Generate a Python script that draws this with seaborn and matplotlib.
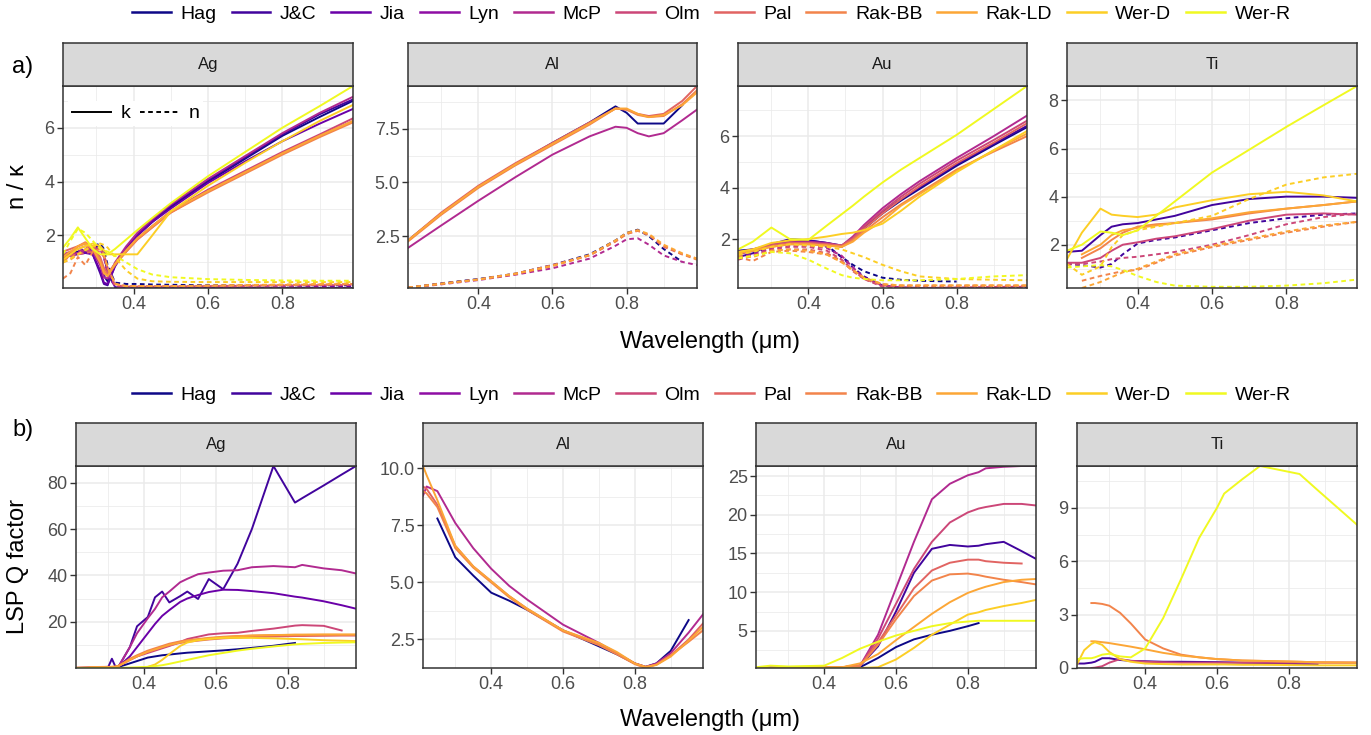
import numpy as np
import pandas as pd
import matplotlib
matplotlib.use("Agg")
import matplotlib.pyplot as plt
from matplotlib.lines import Line2D
from matplotlib.ticker import FixedLocator, FormatStrFormatter
import seaborn as sns

nan = np.nan

SOURCES = ["Hag", "J&C", "Jia", "Lyn", "McP", "Olm", "Pal", "Rak-BB", "Rak-LD", "Wer-D", "Wer-R"]
MATERIALS = ["Ag", "Al", "Au", "Ti"]

# ---------------- optical constants (k solid, n dashed) ----------------
AG_WL = [0.21, 0.23, 0.25, 0.27, 0.29, 0.31, 0.32, 0.33, 0.35, 0.38, 0.41, 0.45, 0.50, 0.60, 0.70, 0.80, 0.90, 0.99]
AG_K = {
    "Hag":    [1.30, 1.35, 1.40, 1.45, 1.40, 1.00, 0.50, 0.30, 0.90, 1.50, 2.00, 2.50, 3.05, 4.00, 4.85, 5.70, 6.40, 7.00],
    "J&C":    [1.20, 1.30, 1.35, 1.40, 1.30, 0.60, 0.20, 0.15, 0.90, 1.55, 2.05, 2.55, 3.10, 4.05, 4.90, 5.75, 6.50, 7.05],
    "Jia":    [1.20, 1.25, 1.30, 1.35, 1.30, 0.70, 0.25, 0.20, 0.85, 1.50, 2.00, 2.50, 3.00, 3.95, 4.75, 5.50, 6.15, 6.70],
    "McP":    [1.25, 1.30, 1.35, 1.45, 1.40, 0.90, 0.45, 0.40, 1.00, 1.60, 2.10, 2.60, 3.15, 4.10, 4.95, 5.80, 6.55, 7.15],
    "Olm":    [1.30, 1.40, 1.50, 1.60, 1.50, 1.00, 0.60, 0.50, 0.95, 1.45, 1.90, 2.35, 2.90, 3.70, 4.40, 5.10, 5.75, 6.35],
    "Pal":    [1.40, 1.50, 1.60, 1.70, 1.60, 1.20, 0.80, 0.60, 0.95, 1.40, 1.85, 2.30, 2.85, 3.65, 4.35, 5.05, 5.70, 6.25],
    "Rak-BB": [1.00, 1.30, 1.60, 1.75, 1.55, 1.10, 0.70, 0.50, 0.90, 1.40, 1.85, 2.30, 2.85, 3.60, 4.30, 5.00, 5.65, 6.20],
    "Rak-LD": [1.20, 1.40, 1.60, 1.70, 1.50, 1.00, 0.60, 0.50, 0.95, 1.45, 1.90, 2.35, 2.90, 3.65, 4.35, 5.05, 5.70, 6.25],
    "Wer-D":  [1.10, 1.30, 1.50, 1.60, 1.70, 1.60, 1.45, 1.30, 1.30, 1.30, 1.30, 2.00, 2.90, 3.85, 4.70, 5.50, 6.25, 6.85],
    "Wer-R":  [1.55, 1.90, 2.30, 1.90, 1.50, 1.30, 1.30, 1.30, 1.50, 1.85, 2.20, 2.65, 3.20, 4.20, 5.10, 6.00, 6.80, 7.55],
}
AG_N = {
    "Hag":    [1.30, 1.30, 1.40, 1.50, 1.60, 1.70, 1.50, 0.90, 0.25, 0.20, 0.20, 0.18, 0.17, 0.15, 0.15, 0.15, 0.15, 0.15],
    "J&C":    [1.20, 1.30, 1.35, 1.45, 1.55, 1.60, 1.30, 0.60, 0.08, 0.05, 0.05, 0.05, 0.05, 0.05, 0.05, 0.05, 0.05, 0.05],
    "Jia":    [1.25, 1.30, 1.35, 1.45, 1.50, 1.50, 1.20, 0.60, 0.10, 0.06, 0.06, 0.06, 0.06, 0.06, 0.07, 0.08, 0.09, 0.10],
    "McP":    [1.20, 1.30, 1.40, 1.50, 1.55, 1.50, 1.20, 0.60, 0.10, 0.06, 0.05, 0.05, 0.05, 0.05, 0.05, 0.05, 0.05, 0.05],
    "Olm":    [1.10, 1.20, 1.30, 1.40, 1.50, 1.50, 1.30, 0.80, 0.15, 0.10, 0.10, 0.10, 0.10, 0.12, 0.13, 0.14, 0.15, 0.16],
    "Pal":    [1.20, 1.25, 1.30, 1.35, 1.40, 1.40, 1.20, 0.80, 0.20, 0.12, 0.12, 0.12, 0.12, 0.13, 0.14, 0.15, 0.16, 0.18],
    "Rak-BB": [0.40, 0.60, 1.20, 0.90, 1.40, 1.50, 1.30, 0.80, 0.20, 0.12, 0.12, 0.12, 0.12, 0.13, 0.14, 0.16, 0.18, 0.20],
    "Rak-LD": [1.00, 1.10, 1.30, 1.50, 1.60, 1.55, 1.30, 0.80, 0.20, 0.12, 0.12, 0.12, 0.12, 0.14, 0.16, 0.18, 0.20, 0.22],
    "Wer-D":  [1.00, 1.15, 1.30, 1.45, 1.60, 1.70, 1.65, 1.55, 1.20, 0.70, 0.40, 0.30, 0.28, 0.27, 0.27, 0.27, 0.27, 0.27],
    "Wer-R":  [1.30, 1.80, 2.25, 2.10, 1.80, 1.50, 1.45, 1.40, 1.25, 1.00, 0.75, 0.55, 0.45, 0.38, 0.35, 0.33, 0.32, 0.32],
}

AL_WL = [0.21, 0.30, 0.40, 0.50, 0.60, 0.70, 0.77, 0.80, 0.83, 0.86, 0.90, 0.95, 0.99]
AL_K = {
    "Hag":    [2.30, 3.55, 4.80, 5.85, 6.85, 7.80, 8.55, 8.25, 7.75, 7.75, 7.75, 8.60, nan],
    "McP":    [1.95, 3.00, 4.15, 5.25, 6.30, 7.15, 7.60, 7.55, 7.30, 7.15, 7.30, 7.90, 8.40],
    "Pal":    [2.30, 3.60, 4.85, 5.90, 6.85, 7.80, 8.45, 8.40, 8.20, 8.10, 8.20, 8.80, 9.50],
    "Rak-BB": [2.25, 3.50, 4.75, 5.80, 6.75, 7.70, 8.45, 8.40, 8.15, 8.05, 8.10, 8.65, 9.30],
    "Rak-LD": [2.30, 3.55, 4.80, 5.85, 6.80, 7.75, 8.45, 8.45, 8.20, 8.05, 8.15, 8.60, 9.20],
}
AL_N = {
    "Hag":    [0.10, 0.30, 0.50, 0.75, 1.15, 1.65, 2.30, 2.65, 2.80, 2.50, 1.90, 1.30, nan],
    "McP":    [0.08, 0.25, 0.45, 0.70, 1.00, 1.45, 2.05, 2.35, 2.40, 2.10, 1.60, 1.30, 1.15],
    "Pal":    [0.10, 0.28, 0.48, 0.75, 1.15, 1.60, 2.25, 2.60, 2.75, 2.55, 2.00, 1.65, 1.45],
    "Rak-BB": [0.10, 0.27, 0.47, 0.73, 1.10, 1.60, 2.25, 2.60, 2.75, 2.55, 2.05, 1.65, 1.40],
    "Rak-LD": [0.10, 0.28, 0.48, 0.75, 1.12, 1.62, 2.30, 2.65, 2.78, 2.60, 2.10, 1.70, 1.45],
}

AU_WL = [0.21, 0.25, 0.30, 0.35, 0.40, 0.45, 0.49, 0.52, 0.55, 0.60, 0.65, 0.70, 0.80, 0.90, 0.99]
AU_K = {
    "Hag":    [1.55, 1.60, 1.75, 1.95, 1.95, 1.85, 1.75, 2.00, 2.40, 3.00, 3.50, 3.95, 4.85, 5.65, 6.35],
    "J&C":    [1.30, 1.45, 1.80, 2.00, 1.95, 1.85, 1.70, 2.05, 2.45, 3.05, 3.55, 4.00, 4.90, 5.70, 6.40],
    "McP":    [1.50, 1.60, 1.80, 1.90, 1.90, 1.85, 1.75, 2.10, 2.55, 3.20, 3.75, 4.25, 5.15, 6.00, 6.80],
    "Olm":    [1.40, 1.55, 1.75, 1.85, 1.85, 1.80, 1.75, 2.05, 2.50, 3.10, 3.65, 4.15, 5.05, 5.85, 6.60],
    "Pal":    [1.45, 1.60, 1.75, 1.85, 1.85, 1.80, 1.75, 2.00, 2.40, 3.00, 3.55, 4.05, 4.95, 5.75, 6.50],
    "Rak-BB": [1.50, 1.55, 1.70, 1.80, 1.80, 1.75, 1.70, 1.95, 2.30, 2.85, 3.35, 3.80, 4.70, 5.40, 6.00],
    "Rak-LD": [1.45, 1.55, 1.70, 1.80, 1.80, 1.75, 1.70, 1.90, 2.25, 2.70, 3.30, 3.75, 4.65, 5.45, 6.10],
    "Wer-D":  [1.50, 1.60, 1.85, 1.95, 2.00, 2.10, 2.20, 2.25, 2.35, 2.60, 3.10, 3.65, 4.60, 5.45, 6.20],
    "Wer-R":  [1.60, 1.90, 2.45, 2.00, 1.97, 2.53, 2.97, 3.30, 3.65, 4.20, 4.70, 5.15, 6.05, 7.05, 7.95],
}
AU_N = {
    "Hag":    [1.30, 1.45, 1.75, 1.95, 1.90, 1.75, 1.30, 1.00, 0.75, 0.50, 0.42, 0.38, 0.35, nan, nan],
    "J&C":    [1.25, 1.40, 1.70, 1.85, 1.85, 1.70, 1.30, 0.90, 0.55, 0.20, 0.12, 0.10, 0.10, 0.10, 0.10],
    "McP":    [1.30, 1.40, 1.65, 1.75, 1.75, 1.65, 1.35, 0.90, 0.50, 0.18, 0.12, 0.10, 0.10, 0.10, 0.12],
    "Olm":    [1.20, 1.35, 1.60, 1.70, 1.70, 1.55, 1.20, 0.80, 0.45, 0.15, 0.10, 0.10, 0.12, 0.14, 0.15],
    "Pal":    [1.25, 1.35, 1.55, 1.60, 1.60, 1.45, 1.15, 0.75, 0.45, 0.20, 0.15, 0.15, 0.15, 0.16, 0.17],
    "Rak-BB": [1.30, 1.15, 1.50, 1.55, 1.50, 1.40, 1.10, 0.80, 0.50, 0.25, 0.20, 0.20, 0.20, 0.20, 0.20],
    "Rak-LD": [1.35, 1.30, 1.55, 1.60, 1.55, 1.40, 1.10, 0.80, 0.50, 0.25, 0.20, 0.20, 0.20, 0.20, 0.20],
    "Wer-D":  [1.40, 1.50, 1.70, 1.80, 1.75, 1.70, 1.60, 1.45, 1.30, 1.00, 0.75, 0.55, 0.45, 0.42, 0.40],
    "Wer-R":  [1.25, 1.35, 1.50, 1.45, 1.20, 0.85, 0.60, 0.50, 0.45, 0.40, 0.40, 0.40, 0.45, 0.55, 0.60],
}

TI_WL = [0.21, 0.25, 0.30, 0.33, 0.36, 0.40, 0.45, 0.50, 0.60, 0.70, 0.80, 0.90, 0.99]
TI_K = {
    "J&C":    [1.70, 1.75, 2.40, 2.75, 2.85, 2.90, 3.05, 3.20, 3.65, 3.90, 4.00, 4.00, 3.95],
    "Olm":    [1.25, 1.25, 1.45, 1.75, 2.00, 2.10, 2.25, 2.35, 2.65, 3.00, 3.25, 3.30, 3.25],
    "Rak-BB": [nan, 1.45, 1.85, 2.20, 2.50, 2.75, 2.85, 2.90, 3.05, 3.30, 3.50, 3.65, 3.80],
    "Rak-LD": [nan, 1.60, 2.00, 2.40, 2.60, 2.70, 2.80, 2.90, 3.10, 3.35, 3.50, 3.65, 3.80],
    "Wer-D":  [1.40, 2.50, 3.50, 3.25, 3.20, 3.15, 3.25, 3.55, 3.85, 4.10, 4.20, 4.05, 3.80],
    "Wer-R":  [1.75, 2.00, 2.55, 2.50, 2.40, 2.60, 3.20, 3.80, 5.00, 5.95, 6.90, 7.80, 8.60],
}
TI_N = {
    "J&C":    [1.20, 1.15, 1.05, 1.20, 1.60, 2.05, 2.20, 2.30, 2.60, 2.90, 3.10, 3.25, 3.30],
    "Olm":    [1.20, 1.20, 1.30, 1.40, 1.45, 1.50, 1.60, 1.70, 2.00, 2.40, 2.85, 3.15, 3.30],
    "Rak-BB": [nan, 0.50, 0.70, 0.80, 0.90, 0.95, 1.25, 1.55, 1.90, 2.20, 2.50, 2.75, 2.95],
    "Rak-LD": [nan, 0.20, 0.45, 0.65, 0.85, 1.00, 1.30, 1.60, 1.95, 2.25, 2.55, 2.80, 2.95],
    "Wer-D":  [1.20, 0.75, 1.10, 1.90, 2.40, 2.60, 2.75, 2.90, 3.20, 3.90, 4.50, 4.80, 4.95],
    "Wer-R":  [1.05, 1.10, 1.15, 1.10, 0.95, 0.70, 0.45, 0.30, 0.25, 0.25, 0.30, 0.40, 0.55],
}

# ---------------- LSP quality factor ----------------
AG_Q_WL = [0.21, 0.25, 0.30, 0.31, 0.32, 0.33, 0.36, 0.38, 0.41, 0.43, 0.45, 0.47, 0.50,
           0.52, 0.55, 0.58, 0.62, 0.66, 0.70, 0.76, 0.82, 0.84, 0.90, 0.95, 0.99]
AG_Q = {
    "Hag":    [nan, nan, nan, nan, nan, 0.5, 2.0, 3.0, 4.5, 5.0, 5.5, 5.8, 6.3, 6.6, 6.9, 7.2, 7.6, 8.1, 8.7, 9.6, 10.8, nan, nan, nan, nan],
    "J&C":    [0.0, 0.2, 0.5, 4.0, 0.5, 1.0, 9.0, 18.0, 22.0, 30.5, 33.0, 28.3, 31.0, 33.0, 29.8, 38.4, 34.0, 45.0, 60.0, 87.2, 71.4, 73.3, 78.8, 83.5, 87.2],
    "Jia":    [nan, nan, nan, nan, nan, 0.8, 5.0, 9.0, 15.0, 19.0, 22.5, 25.0, 28.5, 30.0, 31.5, 32.8, 33.8, 33.7, 33.2, 32.3, 30.8, 30.4, 28.8, 27.1, 25.6],
    "McP":    [nan, nan, nan, nan, nan, 1.0, 9.0, 15.0, 21.5, 25.5, 30.5, 33.0, 37.0, 38.5, 40.5, 41.2, 42.0, 42.2, 43.5, 44.0, 43.5, 44.5, 43.0, 42.2, 40.8],
    "Olm":    [nan, 0.3, 0.3, 0.3, 0.5, 1.0, 3.5, 5.0, 6.5, 7.5, 8.5, 9.5, 11.2, 12.5, 13.5, 14.5, 15.0, 15.2, 16.0, 17.0, 18.3, 18.5, 18.2, 16.2, nan],
    "Pal":    [nan, nan, 0.3, 0.4, 0.5, 1.0, 3.5, 5.0, 7.0, 8.0, 9.0, 9.8, 10.8, 11.3, 11.8, 12.3, 12.8, 13.1, 13.4, 13.6, 13.8, 13.8, 13.9, 14.0, 14.0],
    "Rak-BB": [0.2, 0.4, 0.5, 0.5, 0.6, 1.0, 4.0, 5.5, 7.5, 8.5, 9.5, 10.5, 11.5, 12.0, 12.5, 13.0, 13.5, 13.8, 14.0, 14.2, 14.3, 14.3, 14.3, 14.3, 14.3],
    "Rak-LD": [nan, 0.3, 0.4, 0.5, 0.6, 1.0, 3.5, 5.0, 7.0, 8.0, 9.0, 10.0, 11.0, 11.7, 12.3, 12.8, 13.3, 13.7, 14.0, 14.2, 14.4, 14.4, 14.5, 14.5, 14.5],
    "Wer-D":  [nan, nan, nan, nan, nan, nan, nan, nan, 0.5, 1.5, 3.5, 6.0, 9.5, 11.0, 12.0, 12.5, 13.0, 13.0, 13.0, 12.8, 12.5, 12.4, 12.0, 11.8, 11.6],
    "Wer-R":  [0.0, 0.0, 0.0, 0.0, 0.0, 0.0, 0.2, 0.3, 0.5, 0.8, 1.2, 1.8, 2.8, 3.5, 4.5, 5.5, 6.5, 7.5, 8.3, 9.3, 10.2, 10.4, 10.8, 11.0, 11.1],
}

AL_Q_WL = [0.21, 0.22, 0.25, 0.30, 0.35, 0.40, 0.45, 0.50, 0.60, 0.70, 0.75, 0.80, 0.83, 0.86, 0.90, 0.95, 0.99]
AL_Q = {
    "Hag":    [nan, nan, 7.8, 6.1, 5.3, 4.55, 4.2, 3.8, 2.9, 2.2, 1.85, 1.45, 1.3, 1.45, 2.0, 3.35, nan],
    "McP":    [8.8, 9.2, 9.0, 7.6, 6.5, 5.6, 4.85, 4.25, 3.15, 2.35, 1.9, 1.45, 1.3, 1.45, 1.9, 2.8, 3.6],
    "Pal":    [9.2, 9.1, 8.4, 6.6, 5.7, 5.05, 4.4, 3.85, 2.9, 2.3, 1.9, 1.45, 1.3, 1.4, 1.8, 2.5, 3.2],
    "Rak-BB": [9.0, 8.9, 8.3, 6.5, 5.65, 5.0, 4.35, 3.8, 2.85, 2.25, 1.85, 1.42, 1.25, 1.4, 1.8, 2.4, 2.9],
    "Rak-LD": [10.1, 9.7, 8.6, 6.6, 5.7, 5.05, 4.4, 3.85, 2.9, 2.35, 1.95, 1.45, 1.3, 1.38, 1.75, 2.45, 3.05],
}

AU_Q_WL = [0.21, 0.25, 0.30, 0.40, 0.45, 0.50, 0.55, 0.60, 0.65, 0.70, 0.75, 0.80, 0.83, 0.85, 0.90, 0.95, 0.99]
AU_Q = {
    "Hag":    [nan, nan, 0.3, 0.3, 0.3, 0.3, 1.5, 2.9, 3.9, 4.5, 5.0, 5.6, 6.0, nan, nan, nan, nan],
    "J&C":    [nan, nan, 0.3, 0.3, 0.3, 0.5, 3.0, 7.5, 12.5, 15.6, 16.1, 15.9, 16.0, 16.2, 16.5, 15.3, 14.3],
    "McP":    [0.2, 0.3, 0.3, 0.3, 0.3, 0.5, 4.5, 10.5, 16.5, 22.0, 24.0, 25.1, 25.5, 26.0, 26.2, 26.3, 26.3],
    "Olm":    [nan, nan, 0.3, 0.3, 0.3, 0.5, 4.0, 8.5, 13.0, 16.5, 19.0, 20.3, 20.8, 21.0, 21.4, 21.4, 21.2],
    "Pal":    [nan, nan, 0.3, 0.3, 0.3, 0.5, 3.5, 7.0, 10.5, 12.8, 13.8, 14.2, 14.2, 14.0, 13.8, 13.7, nan],
    "Rak-BB": [nan, nan, 0.3, 0.3, 0.3, 0.5, 3.2, 6.5, 9.5, 11.5, 12.3, 12.4, 12.2, 12.0, 11.6, 11.3, 11.0],
    "Rak-LD": [nan, nan, 0.3, 0.3, 0.3, 0.8, 2.0, 3.8, 5.5, 7.2, 8.7, 9.9, 10.4, 10.7, 11.3, 11.6, 11.7],
    "Wer-D":  [0.2, 0.2, 0.2, 0.2, 0.2, 0.2, 0.3, 1.3, 2.8, 4.5, 5.8, 7.1, 7.4, 7.7, 8.2, 8.6, 9.0],
    "Wer-R":  [0.3, 0.5, 0.4, 0.5, 1.5, 2.7, 3.6, 4.4, 5.0, 5.6, 6.0, 6.2, 6.3, 6.3, 6.3, 6.3, 6.3],
}

TI_Q_WL = [0.21, 0.23, 0.25, 0.26, 0.28, 0.30, 0.33, 0.36, 0.40, 0.45, 0.50, 0.55, 0.60, 0.62, 0.67, 0.72, 0.83, 0.88, 0.99]
TI_Q = {
    "J&C":    [0.25, 0.25, 0.30, 0.35, 0.55, 0.55, 0.45, 0.40, 0.38, 0.35, 0.35, 0.34, 0.33, 0.32, 0.30, 0.28, 0.22, 0.20, nan],
    "Olm":    [nan, nan, 0.00, 0.02, 0.10, 0.30, 0.50, 0.40, 0.35, 0.32, 0.30, 0.30, 0.30, 0.30, 0.30, 0.30, 0.30, 0.30, 0.30],
    "Rak-BB": [nan, nan, 3.65, 3.65, 3.60, 3.50, 3.10, 2.50, 1.60, 1.10, 0.75, 0.60, 0.50, 0.48, 0.42, 0.40, 0.35, 0.32, 0.30],
    "Rak-LD": [nan, nan, 1.50, 1.50, 1.45, 1.40, 1.30, 1.20, 1.05, 0.85, 0.70, 0.60, 0.50, 0.48, 0.42, 0.40, 0.35, 0.32, 0.30],
    "Wer-D":  [0.20, 1.00, 1.35, 1.45, 1.30, 0.90, 0.50, 0.35, 0.25, 0.22, 0.20, 0.20, 0.20, 0.20, 0.18, 0.18, 0.16, 0.15, 0.15],
    "Wer-R":  [0.50, 0.55, 0.55, 0.60, 0.75, 0.80, 0.65, 0.60, 1.10, 2.80, 5.00, 7.30, 9.00, 9.80, 10.60, 11.35, 10.90, 10.00, 8.05],
}

X_TICKS = [0.4, 0.6, 0.8]
X_MINOR = [0.3, 0.5, 0.7, 0.9]

# ---------------- styling ----------------
plt.rcParams["font.family"] = ["Liberation Sans", "DejaVu Sans"]
PALETTE = {s: matplotlib.colormaps["plasma"](i / (len(SOURCES) - 1)) for i, s in enumerate(SOURCES)}
DASHES = {"k": "", "n": (2.4, 1.8)}
LINE_W = 1.4
BORDER = "#333333"
GRID = "#EBEBEB"
W, H = 1371, 735


def box(left, top, right, bottom):
    return [left / W, 1 - bottom / H, (right - left) / W, (bottom - top) / H]


def long_frame(wl, parts):
    rows = []
    for part, table in parts.items():
        for src, vals in table.items():
            for w, v in zip(wl, vals):
                if not np.isnan(v):
                    rows.append((w, v, src, part))
    return pd.DataFrame(rows, columns=["wl", "value", "source", "part"])


TOP = [
    ("Ag", long_frame(AG_WL, {"k": AG_K, "n": AG_N}), (63, 353), [2, 4, 6], [1, 3, 5, 7], None),
    ("Al", long_frame(AL_WL, {"k": AL_K, "n": AL_N}), (408, 697), [2.5, 5.0, 7.5], [1.25, 3.75, 6.25, 8.75], "%.1f"),
    ("Au", long_frame(AU_WL, {"k": AU_K, "n": AU_N}), (738, 1027), [2, 4, 6], [1, 3, 5, 7], None),
    ("Ti", long_frame(TI_WL, {"k": TI_K, "n": TI_N}), (1067, 1357), [2, 4, 6, 8], [1, 3, 5, 7], None),
]
BOTTOM = [
    ("Ag", long_frame(AG_Q_WL, {"k": AG_Q}), (76, 356), [20, 40, 60, 80], [10, 30, 50, 70], None),
    ("Al", long_frame(AL_Q_WL, {"k": AL_Q}), (423, 703), [2.5, 5.0, 7.5, 10.0], [3.75, 6.25, 8.75], "%.1f"),
    ("Au", long_frame(AU_Q_WL, {"k": AU_Q}), (756, 1036), [5, 10, 15, 20, 25], [2.5, 7.5, 12.5, 17.5, 22.5], None),
    ("Ti", long_frame(TI_Q_WL, {"k": TI_Q}), (1077, 1357), [0, 3, 6, 9], [1.5, 4.5, 7.5, 10.5], None),
]

fig = plt.figure(figsize=(W / 100, H / 100), dpi=100)


def draw_row(panels, strip_top, top, bottom, with_style):
    axes = []
    for mat, df, (left, right), yt, ym, fmt in panels:
        ax = fig.add_axes(box(left, top, right, bottom))
        kw = dict(style="part", style_order=["k", "n"], dashes=DASHES) if with_style else {}
        sns.lineplot(data=df, x="wl", y="value", hue="source", hue_order=SOURCES,
                     palette=PALETTE, estimator=None, errorbar=None, linewidth=LINE_W,
                     legend=False, ax=ax, **kw)
        ax.set_xlim(0.21, 0.99)
        ax.set_ylim(df["value"].min(), df["value"].max())
        ax.xaxis.set_major_locator(FixedLocator(X_TICKS))
        ax.xaxis.set_minor_locator(FixedLocator(X_MINOR))
        ax.yaxis.set_major_locator(FixedLocator(yt))
        ax.yaxis.set_minor_locator(FixedLocator(ym))
        if fmt:
            ax.yaxis.set_major_formatter(FormatStrFormatter(fmt))
        ax.set_xlabel("")
        ax.set_ylabel("")
        ax.set_facecolor("white")
        ax.set_axisbelow(True)
        ax.grid(which="major", color=GRID, linewidth=1.1)
        ax.grid(which="minor", color=GRID, linewidth=0.55)
        ax.tick_params(which="major", length=4, width=1.0, color=BORDER,
                       labelsize=13, labelcolor="#4D4D4D", pad=2)
        ax.tick_params(which="minor", length=0)
        for sp in ax.spines.values():
            sp.set_color(BORDER)
            sp.set_linewidth(1.1)

        sax = fig.add_axes(box(left, strip_top, right, top))
        sax.set_facecolor("#D9D9D9")
        sax.set_xticks([])
        sax.set_yticks([])
        for sp in sax.spines.values():
            sp.set_color(BORDER)
            sp.set_linewidth(1.1)
        sax.text(0.5, 0.5, mat, ha="center", va="center", fontsize=12,
                 color="#1A1A1A", transform=sax.transAxes)
        axes.append(ax)
    return axes


top_axes = draw_row(TOP, 43, 86, 288, True)
bottom_axes = draw_row(BOTTOM, 423, 466, 668, False)

# source legends above each row
handles = [Line2D([], [], color=PALETTE[s], linewidth=1.8) for s in SOURCES]
for y in (14, 395):
    fig.legend(handles, SOURCES, loc="center", bbox_to_anchor=(711.5 / W, 1 - y / H),
               ncol=len(SOURCES), frameon=False, fontsize=14, handlelength=2.0,
               handletextpad=0.5, columnspacing=0.75, borderpad=0.0)

# linetype key inside the Ag panel
part_handles = [Line2D([], [], color="black", linewidth=LINE_W),
                Line2D([], [], color="black", linewidth=LINE_W, dashes=DASHES["n"])]
leg = top_axes[0].legend(part_handles, ["k", "n"], ncol=2, loc="upper left",
                         bbox_to_anchor=(68 / W, 1 - 101 / H), bbox_transform=fig.transFigure,
                         frameon=True, facecolor="white", edgecolor="none", framealpha=1,
                         fancybox=False, fontsize=14, handlelength=2.0, handletextpad=0.5,
                         columnspacing=0.5, borderpad=0.2, borderaxespad=0.0)

fig.text(18 / W, 1 - 187 / H, "n / κ", rotation=90, ha="center", va="center", fontsize=17)
fig.text(18 / W, 1 - 567 / H, "LSP Q factor", rotation=90, ha="center", va="center", fontsize=17)
fig.text(710 / W, 1 - 342 / H, "Wavelength (μm)", ha="center", va="center", fontsize=17)
fig.text(710 / W, 1 - 720 / H, "Wavelength (μm)", ha="center", va="center", fontsize=17)
fig.text(23 / W, 1 - 67 / H, "a)", ha="center", va="center", fontsize=17)
fig.text(23 / W, 1 - 430 / H, "b)", ha="center", va="center", fontsize=17)

fig.savefig("out.png", dpi=100, facecolor="white")
